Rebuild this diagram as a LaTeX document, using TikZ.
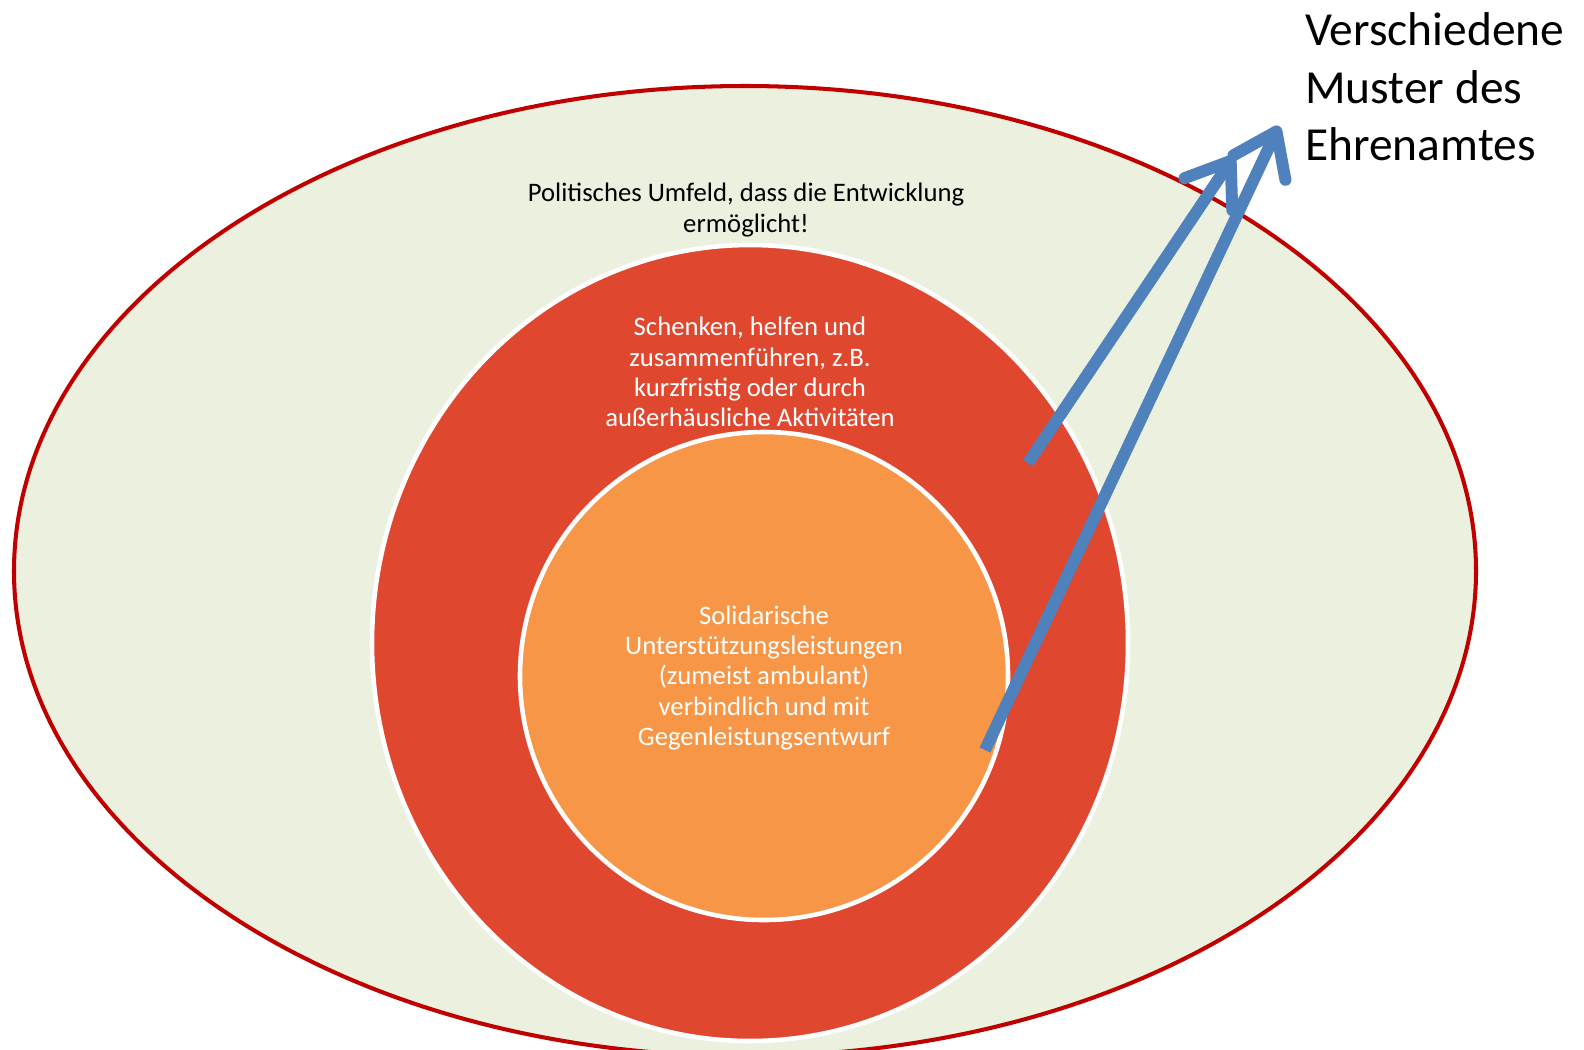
\documentclass[tikz,border=0pt]{standalone}
\usepackage{fontspec}
\setmainfont{Carlito}
\usepackage{xcolor}
\usepackage{tikz}
\usetikzlibrary{arrows.meta}

\definecolor{umfeldgreen}{HTML}{EBF1DE}
\definecolor{umfeldrand}{HTML}{C00000}
\definecolor{schenkenred}{HTML}{E0472F}
\definecolor{solidorange}{HTML}{F79646}
\definecolor{musterblue}{HTML}{4F81BD}

\tikzset{
	smalltext/.style={align=center, inner sep=0pt, font=\fontsize{15.2}{17.2}\selectfont},
	bigtext/.style={align=left, inner sep=0pt, anchor=west, font=\fontsize{27}{32.7}\selectfont},
	musterarrow/.style={draw=musterblue, line width=6.8pt, -{Straight Barb[length=0.8cm, width=1.15cm, round]}},
}

\begin{document}
\begin{tikzpicture}[x=0.02cm, y=-0.02cm]
			\useasboundingbox (0,0) rectangle (1584,1049);
			\clip (0,0) rectangle (1584,1049);
			\fill[white] (0,0) rectangle (1584,1049);
			\filldraw[fill=umfeldgreen, draw=umfeldrand, line width=2.3pt] (745,571) ellipse [x radius=731, y radius=485];
			\filldraw[fill=schenkenred, draw=white, line width=2.6pt] (750,643) ellipse [x radius=378, y radius=398];
			\filldraw[fill=solidorange, draw=white, line width=2.6pt] (764,676) circle [radius=244];
			\node[smalltext] at (746, 210) (umfeld) {Politisches Umfeld, dass die Entwicklung\\ermöglicht!};
			\node[smalltext, text=white] at (750, 372) (schenken) {Schenken, helfen und\\zusammenführen, z.B.\\kurzfristig oder durch\\außerhäusliche Aktivitäten};
			\node[smalltext, text=white] at (764, 678) (solidarisch) {Solidarische\\Unterstützungsleistungen\\(zumeist ambulant)\\verbindlich und mit\\Gegenleistungsentwurf};
			\node[bigtext] at (1305, 87) (muster) {Verschiedene\\Muster des\\Ehrenamtes};
			\coordinate (s1) at (1028,463);
			\coordinate (e1) at (1234,156);
			\coordinate (s2) at (985,750);
			\coordinate (e2) at (1279,126);
			\draw[musterarrow] (s1) -- (e1);
			\draw[musterarrow] (s2) -- (e2);
		\end{tikzpicture}
\end{document}
